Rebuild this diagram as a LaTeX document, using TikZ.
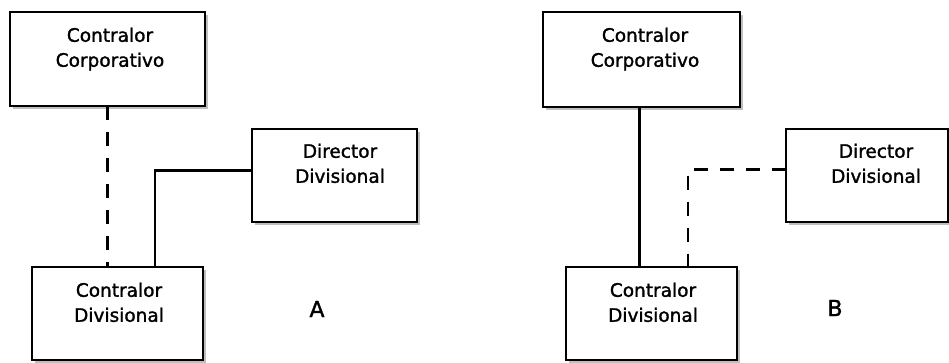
\documentclass[tikz,border=0pt]{standalone}
\usepackage{fontspec}
\setmainfont[FakeBold=1.5]{DejaVu Sans}
\usetikzlibrary{calc,shadows}
\begin{document}
\begin{tikzpicture}[x=1pt,y=-1pt,
  box/.style={draw=black,line width=1.8pt,fill=white,inner sep=0pt,outer sep=0pt,
    drop shadow={shadow xshift=2.5pt,shadow yshift=-2.5pt,fill=black!50}},
  lbl/.style={anchor=north,align=center,inner sep=0pt,font=\fontsize{18.5}{25}\selectfont},
  big/.style={inner sep=0pt,font=\fontsize{22}{25}\selectfont},
  solidline/.style={line width=2.8pt},
  dashline/.style={line width=2.8pt,dash pattern=on 14pt off 12pt}]
\useasboundingbox (0,0) rectangle (949,362);
% ---- A ----
\node[box,minimum width=195pt,minimum height=94pt] (cc1) at (107.5,59) {};
\node[box,minimum width=171pt,minimum height=93pt] (cd1) at (117.5,313.5) {};
\node[box,minimum width=165pt,minimum height=93pt] (dd1) at (334.5,175.5) {};
\node[lbl] (cc1t) at (110,27.5) {Contralor\\Corporativo};
\node[lbl] (cd1t) at (119,282.5) {Contralor\\Divisional};
\node[lbl] (dd1t) at (340,143.5) {Director\\Divisional};
\draw[dashline] (cc1.south) -- (cc1.south |- cd1.north);
\draw[solidline] ($(dd1.west)+(0,-5)$) -| ($(cd1.north west)+(123,0)$);
\node[big] (la) at (317,309) {A};
% ---- B ----
\node[box,minimum width=197pt,minimum height=95pt] (cc2) at (641.5,59.5) {};
\node[box,minimum width=171pt,minimum height=93pt] (cd2) at (651.5,313.5) {};
\node[box,minimum width=162pt,minimum height=93pt] (dd2) at (867,175.5) {};
\node[lbl] (cc2t) at (645,27.5) {Contralor\\Corporativo};
\node[lbl] (cd2t) at (653,282.5) {Contralor\\Divisional};
\node[lbl] (dd2t) at (876,143.5) {Director\\Divisional};
\draw[solidline] ($(cc2.south)+(-2,0)$) -- ($(cc2.south |- cd2.north)+(-2,0)$);
\draw[dashline] ($(dd2.west)+(0,-6)$) -| ($(cd2.north west)+(122,0)$);
\node[big] (lb) at (835,308) {B};
\end{tikzpicture}
\end{document}
